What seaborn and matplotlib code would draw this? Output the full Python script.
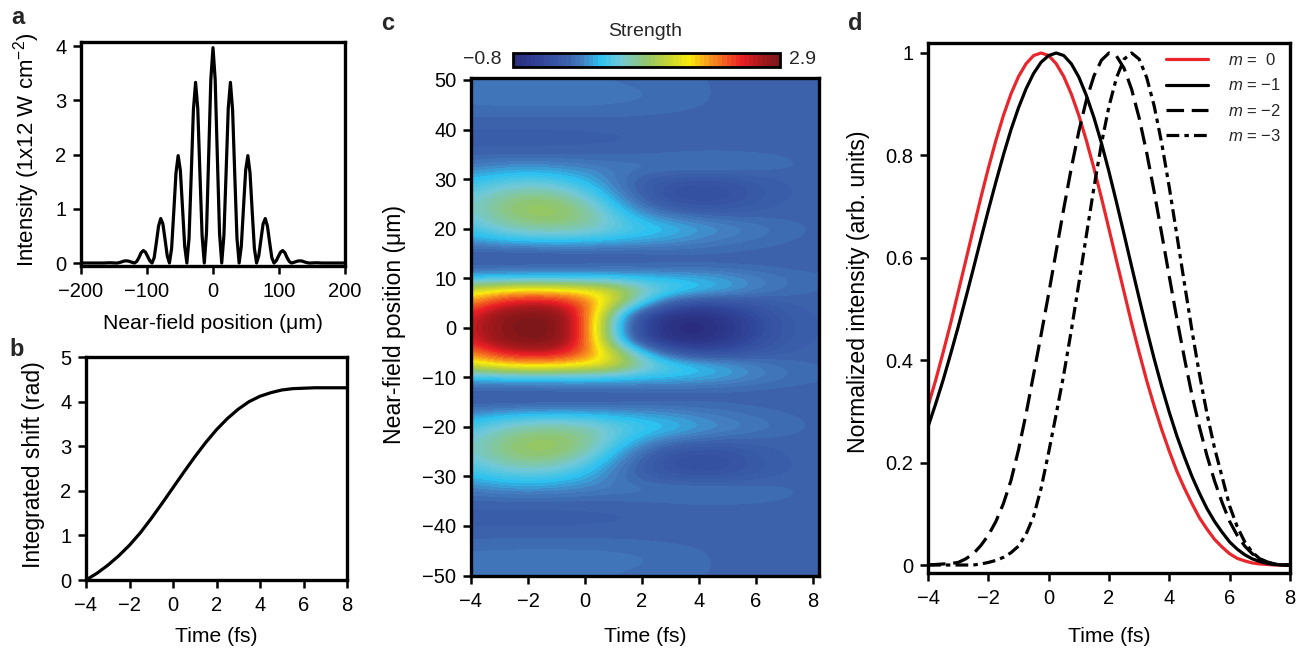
import numpy as np
import pandas as pd
import matplotlib
matplotlib.use("Agg")
import matplotlib.pyplot as plt
from matplotlib.colors import LinearSegmentedColormap, BoundaryNorm
import seaborn as sns

# ---------------- data ----------------
# (a) near-field intensity, symmetric about 0, sampled every 3.3 um for x >= 0
pos_step_um = 3.3
intensity_half = [3.97, 3.38, 1.95, 0.55, 0.00,
                  0.50, 1.65, 2.85, 3.33, 2.82, 1.62, 0.46, 0.00,
                  0.31, 1.02, 1.71, 1.98, 1.66, 0.95, 0.27, 0.00,
                  0.13, 0.43, 0.72, 0.82, 0.68, 0.38, 0.10, 0.00,
                  0.04, 0.12, 0.20, 0.23, 0.19, 0.10, 0.03, 0.00,
                  0.01, 0.025, 0.037, 0.04, 0.035, 0.02, 0.008, 0.00,
                  0.0, 0.002, 0.004, 0.004, 0.002, 0.0, 0.0, 0.0,
                  0.0, 0.0, 0.0, 0.0, 0.0, 0.0, 0.0, 0.0, 0.0]

# (b) integrated phase shift vs time
time_b = np.arange(-4, 8.01, 0.5)
shift_rad = [0.00, 0.15, 0.33, 0.54, 0.78, 1.06, 1.38, 1.72, 2.07, 2.42,
             2.76, 3.08, 3.37, 3.62, 3.83, 4.00, 4.12, 4.20, 4.26, 4.29,
             4.30, 4.31, 4.31, 4.31, 4.31]

# (c) strength map: rows are positions 0..50 um (step 2.5), columns times -4..8 fs
time_map = np.arange(-4, 9, 1)
pos_map_half = np.arange(0, 50.1, 2.5)
strength_half = [
    [2.45, 2.82, 2.90, 2.88, 2.25, 0.60, -0.40, -0.76, -0.80, -0.66, -0.38, -0.16, -0.06],
    [2.40, 2.78, 2.88, 2.85, 2.22, 0.75, -0.33, -0.70, -0.74, -0.58, -0.33, -0.14, -0.05],
    [2.00, 2.40, 2.55, 2.50, 2.15, 1.35, 0.55, -0.10, -0.30, -0.26, -0.16, -0.07, -0.03],
    [1.45, 1.70, 1.80, 1.75, 1.65, 1.45, 0.85, 0.58, 0.42, 0.30, 0.15, 0.06, 0.00],
    [0.40, 0.45, 0.48, 0.48, 0.48, 0.46, 0.43, 0.40, 0.36, 0.28, 0.17, 0.08, 0.02],
    [-0.05, -0.05, -0.05, -0.04, -0.03, -0.02, -0.02, -0.02, -0.02, -0.02, -0.02, -0.03, -0.03],
    [-0.10, -0.10, -0.10, -0.09, -0.08, -0.07, -0.05, -0.03, -0.02, -0.02, -0.03, -0.04, -0.04],
    [0.25, 0.35, 0.40, 0.42, 0.40, 0.35, 0.30, 0.24, 0.16, 0.10, 0.05, 0.01, -0.02],
    [0.50, 0.72, 0.85, 0.88, 0.82, 0.66, 0.50, 0.42, 0.30, 0.20, 0.12, 0.05, -0.01],
    [0.68, 0.92, 1.08, 1.10, 0.95, 0.62, 0.32, 0.14, 0.04, 0.00, -0.01, -0.02, -0.02],
    [0.72, 0.95, 1.10, 1.08, 0.85, 0.42, 0.05, -0.18, -0.25, -0.22, -0.12, -0.05, -0.03],
    [0.58, 0.78, 0.88, 0.82, 0.58, 0.22, -0.08, -0.28, -0.35, -0.30, -0.16, -0.07, -0.04],
    [0.38, 0.50, 0.55, 0.50, 0.35, 0.12, -0.05, -0.15, -0.20, -0.17, -0.10, -0.05, -0.03],
    [0.15, 0.22, 0.25, 0.22, 0.17, 0.12, 0.10, 0.10, 0.10, 0.09, 0.06, 0.02, -0.01],
    [-0.03, -0.02, -0.02, -0.02, -0.02, -0.01, 0.00, 0.01, 0.02, 0.02, 0.01, 0.00, -0.02],
    [-0.09, -0.09, -0.09, -0.08, -0.08, -0.07, -0.06, -0.05, -0.04, -0.04, -0.04, -0.04, -0.04],
    [-0.07, -0.07, -0.07, -0.07, -0.06, -0.06, -0.05, -0.05, -0.04, -0.04, -0.04, -0.04, -0.04],
    [0.00, 0.00, 0.00, 0.00, 0.00, 0.00, -0.01, -0.02, -0.03, -0.04, -0.04, -0.04, -0.04],
    [0.07, 0.08, 0.08, 0.08, 0.08, 0.07, 0.06, 0.04, 0.01, -0.02, -0.03, -0.04, -0.04],
    [0.08, 0.09, 0.09, 0.09, 0.09, 0.08, 0.07, 0.05, 0.02, -0.02, -0.03, -0.04, -0.04],
    [0.06, 0.07, 0.07, 0.07, 0.07, 0.06, 0.05, 0.03, 0.01, -0.02, -0.03, -0.04, -0.04],
]
strength_min, strength_max = -0.8, 2.9

# (d) normalized far-field intensity for diffraction orders m
time_d = np.arange(-4, 8.01, 0.25)
order_labels = ["$m$ =  0", "$m$ = \u22121", "$m$ = \u22122", "$m$ = \u22123"]
m0 = [0.310, 0.360, 0.415, 0.472, 0.533, 0.594, 0.656, 0.717, 0.775, 0.829,
      0.878, 0.920, 0.954, 0.979, 0.995, 1.000, 0.995, 0.979, 0.954, 0.920,
      0.878, 0.829, 0.775, 0.717, 0.656, 0.594, 0.533, 0.472, 0.415, 0.360,
      0.310, 0.264, 0.222, 0.183, 0.150, 0.120, 0.092, 0.070, 0.050, 0.035,
      0.022, 0.013, 0.008, 0.004, 0.002, 0.001, 0.000, 0.000, 0.000]
m1 = [0.270, 0.314, 0.361, 0.412, 0.465, 0.521, 0.578, 0.636, 0.693, 0.748,
      0.801, 0.850, 0.893, 0.930, 0.960, 0.982, 0.995, 1.000, 0.995, 0.979,
      0.953, 0.917, 0.874, 0.824, 0.768, 0.708, 0.646, 0.583, 0.521, 0.460,
      0.402, 0.348, 0.298, 0.252, 0.211, 0.173, 0.140, 0.110, 0.085, 0.064,
      0.045, 0.031, 0.020, 0.012, 0.007, 0.003, 0.001, 0.000, 0.000]
m2 = [0.000, 0.001, 0.002, 0.003, 0.005, 0.012, 0.022, 0.038, 0.058, 0.085,
      0.120, 0.165, 0.225, 0.295, 0.372, 0.450, 0.530, 0.613, 0.696, 0.775,
      0.847, 0.908, 0.955, 0.986, 1.000, 0.994, 0.970, 0.929, 0.873, 0.805,
      0.728, 0.646, 0.563, 0.481, 0.404, 0.332, 0.269, 0.213, 0.164, 0.122,
      0.085, 0.058, 0.037, 0.022, 0.012, 0.006, 0.002, 0.000, 0.000]
m3 = [0.000, 0.000, 0.000, 0.000, 0.000, 0.000, 0.000, 0.002, 0.005, 0.009,
      0.015, 0.024, 0.037, 0.060, 0.095, 0.150, 0.220, 0.295, 0.372, 0.458,
      0.550, 0.644, 0.737, 0.823, 0.896, 0.952, 0.988, 1.000, 0.988, 0.952,
      0.896, 0.823, 0.737, 0.644, 0.550, 0.458, 0.372, 0.295, 0.228, 0.172,
      0.115, 0.075, 0.045, 0.025, 0.012, 0.005, 0.001, 0.000, 0.000]

# ---------------- style ----------------
sns.set_theme(style="ticks")
TICK_FS, XLAB_FS, YLAB_FS = 14.5, 15.2, 16.6
plt.rcParams.update({
    "font.family": ["Liberation Sans", "DejaVu Sans"],
    "mathtext.fontset": "custom",
    "mathtext.rm": "Liberation Sans",
    "mathtext.it": "Liberation Sans:italic",
    "axes.linewidth": 2.4,
    "axes.edgecolor": "black",
    "axes.labelcolor": "black",
    "xtick.color": "black",
    "ytick.color": "black",
    "xtick.direction": "out",
    "ytick.direction": "out",
    "xtick.major.size": 5.5,
    "ytick.major.size": 5.5,
    "xtick.major.width": 1.8,
    "ytick.major.width": 1.8,
    "xtick.major.pad": 6,
    "ytick.major.pad": 5,
    "xtick.labelsize": TICK_FS,
    "ytick.labelsize": TICK_FS,
})

W, H = 1296, 650
fig = plt.figure(figsize=(W / 100, H / 100), dpi=100)


def px_axes(left, top, right, bottom):
    ax = fig.add_axes([left / W, 1 - bottom / H, (right - left) / W, (bottom - top) / H])
    ax._px_box = (left, top, right, bottom)
    return ax


def place_labels(ax, xlabel, ylabel, xcenter, ycenter, yfs=YLAB_FS):
    """Put axis labels with their centres at given figure pixel positions."""
    left, top, right, bottom = ax._px_box
    ax.set_xlabel(xlabel, fontsize=XLAB_FS, va="center")
    ax.set_ylabel(ylabel, fontsize=yfs, va="center")
    ax.xaxis.set_label_coords((xcenter[0] - left) / (right - left),
                              (bottom - xcenter[1]) / (bottom - top))
    ax.yaxis.set_label_coords((ycenter[0] - left) / (right - left),
                              (bottom - ycenter[1]) / (bottom - top))


LW = 2.3

# ---- (a) ----
ax_a = px_axes(81, 42, 345, 266)
xh = np.arange(len(intensity_half)) * pos_step_um
ih = np.array(intensity_half)
df_a = pd.DataFrame({"x": np.concatenate([-xh[::-1], xh[1:]]),
                     "y": np.concatenate([ih[::-1], ih[1:]])})
sns.lineplot(data=df_a, x="x", y="y", ax=ax_a, color="black", lw=LW, sort=False)
ax_a.set_xlim(-200, 200)
ax_a.set_ylim(-0.055, 4.074)
ax_a.set_xticks([-200, -100, 0, 100, 200])
ax_a.set_yticks([0, 1, 2, 3, 4])
place_labels(ax_a, "Near-field position (\u03bcm)",
             r"Intensity (1x12 W cm$^{\mathregular{-2}}$)", (213, 323), (27, 150), yfs=16.0)

# ---- (b) ----
ax_b = px_axes(86, 357, 347, 580)
sns.lineplot(x=time_b, y=shift_rad, ax=ax_b, color="black", lw=LW)
ax_b.set_xlim(-4, 8)
ax_b.set_ylim(0, 5)
ax_b.set_xticks(np.arange(-4, 9, 2))
ax_b.set_yticks(np.arange(0, 6, 1))
place_labels(ax_b, "Time (fs)", "Integrated shift (rad)", (216, 637), (34, 465))

# ---- (c) ----
ax_c = px_axes(471, 78, 819, 576)
cmap = LinearSegmentedColormap.from_list("strength", [
    (0.00, "#2a2d7f"), (0.10, "#31479b"), (0.20, "#3c62ac"), (0.26, "#4483c4"),
    (0.32, "#2bc1ef"), (0.40, "#72c9d8"), (0.50, "#93c66a"), (0.58, "#c5d433"),
    (0.66, "#f9ec0e"), (0.74, "#f7951d"), (0.86, "#eb1f25"), (0.93, "#a8191d"),
    (1.00, "#7d1719"),
])
levels = np.linspace(strength_min, strength_max, 61)
norm = BoundaryNorm(levels, cmap.N)
half = np.array(strength_half)
field = np.vstack([half[:0:-1], half])
im = ax_c.imshow(field, origin="lower", aspect="auto", cmap=cmap, norm=norm,
                 extent=[time_map[0] - 0.5, time_map[-1] + 0.5, -51.25, 51.25],
                 interpolation="bicubic", interpolation_stage="data")
ax_c.set_xlim(-4, 8.21)
ax_c.set_ylim(-50.1, 50.4)
ax_c.set_xticks(np.arange(-4, 9, 2))
ax_c.set_yticks(np.arange(-50, 51, 10))
place_labels(ax_c, "Time (fs)", "Near-field position (\u03bcm)", (645, 636), (394, 325))

cax = px_axes(513, 53, 780, 67)
cb = fig.colorbar(im, cax=cax, orientation="horizontal")
cb.set_ticks([])
cb.ax.minorticks_off()
cb.ax.tick_params(which="both", length=0)
cb.outline.set_linewidth(2.0)
fig.text(645 / W, 1 - 31 / H, "Strength", ha="center", va="center", fontsize=14)
fig.text(502 / W, 1 - 60 / H, "\u22120.8", ha="right", va="center", fontsize=14)
fig.text(789 / W, 1 - 60 / H, "2.9", ha="left", va="center", fontsize=14)

# ---- (d) ----
ax_d = px_axes(928, 43, 1290, 573)
styles = [("#e8262b", "-"), ("black", "-"), ("black", (0, (5.5, 2.4))),
          ("black", (0, (4, 1.6, 1.4, 1.6)))]
for vals, lab, (col, ls) in zip([m0, m1, m2, m3], order_labels, styles):
    sns.lineplot(x=time_d, y=vals, ax=ax_d, color=col, lw=LW, linestyle=ls, label=lab)
ax_d.set_xlim(-4, 8)
ax_d.set_ylim(-0.0156, 1.0195)
ax_d.set_xticks(np.arange(-4, 9, 2))
ax_d.set_yticks([0, 0.2, 0.4, 0.6, 0.8, 1])
ax_d.set_yticklabels(["0", "0.2", "0.4", "0.6", "0.8", "1"])
place_labels(ax_d, "Time (fs)", "Normalized intensity (arb. units)", (1109, 637), (858, 292))
ax_d.legend(loc="upper right", frameon=False, fontsize=12, handlelength=2.5,
            labelspacing=0.55, borderaxespad=0.15, handletextpad=1.2)

for ax in (ax_a, ax_b, ax_c, ax_d):
    for s in ax.spines.values():
        s.set_visible(True)
        s.set_linewidth(2.4)
        s.set_color("black")

# panel letters
for letter, x, y in [("a", 18, 18), ("b", 17, 349), ("c", 388, 24), ("d", 855, 23)]:
    fig.text(x / W, 1 - y / H, letter, fontsize=17, fontweight="bold",
             ha="center", va="center")

fig.savefig("out.png", dpi=100)
